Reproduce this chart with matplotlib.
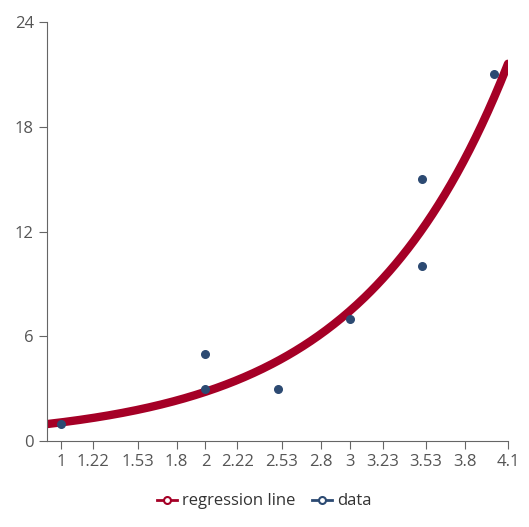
import numpy as np
import matplotlib.pyplot as plt
from matplotlib.lines import Line2D

plt.rcParams['font.family'] = ['Open Sans', 'DejaVu Sans']

# observed data
dataX = [1, 2, 2, 2.5, 3, 3.5, 3.5, 4]
dataY = [1, 5, 3, 3, 7, 10, 15, 21]

# exponential regression y = a * exp(b * x)
regA = 0.405
regB = 0.97

xTicks = [1, 1.22, 1.53, 1.8, 2, 2.22, 2.53, 2.8, 3, 3.23, 3.53, 3.8, 4.1]
xTickLabels = ['1', '1.22', '1.53', '1.8', '2', '2.22', '2.53', '2.8', '3', '3.23', '3.53', '3.8', '4.1']
yTicks = [0, 6, 12, 18, 24]

lineColor = '#a50026'
dotColor = '#2c4a72'
axisColor = '#666666'

fig = plt.figure(figsize=(5.29, 5.27), dpi=100)
ax = fig.add_axes([47 / 529, 86 / 527, 461 / 529, 419 / 527])

xs = np.linspace(0.9, 4.1, 300)
ax.plot(xs, regA * np.exp(regB * xs), color=lineColor, lw=6, solid_capstyle='round', zorder=2)
ax.scatter(dataX, dataY, s=30, color=dotColor, zorder=3)

ax.set_xlim(0.9, 4.1)
ax.set_ylim(0, 24)
ax.set_xticks(xTicks)
ax.set_xticklabels(xTickLabels)
ax.set_yticks(yTicks)

for side in ['top', 'right']:
    ax.spines[side].set_visible(False)
for side in ['left', 'bottom']:
    ax.spines[side].set_color(axisColor)
ax.tick_params(colors=axisColor, labelsize=12, length=6, labelcolor='#555555')

handles = [
    Line2D([], [], color=lineColor, lw=2, marker='o', markersize=5, markerfacecolor='white', markeredgewidth=1.5),
    Line2D([], [], color=dotColor, lw=2, marker='o', markersize=5, markerfacecolor='white', markeredgewidth=1.5),
]
fig.legend(handles, ['regression line', 'data'], loc='lower center', bbox_to_anchor=(0.5, 0.005),
           ncol=2, frameon=False, fontsize=12, handlelength=1.2, handletextpad=0.3, columnspacing=1.0,
           labelcolor='#333333')

fig.savefig('out.png', dpi=100)
